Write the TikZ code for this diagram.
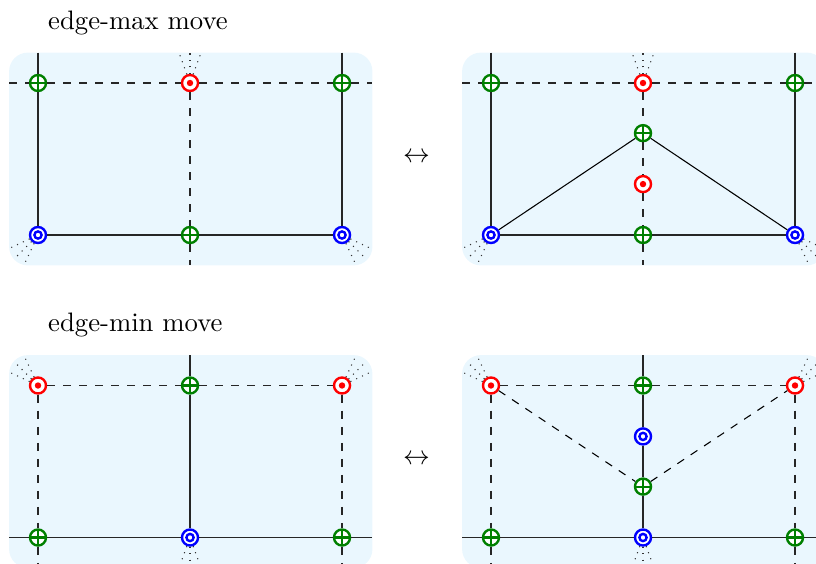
\documentclass[tikz,border=0pt]{standalone}
\definecolor{panelbg}{RGB}{234,247,254}
\definecolor{sadgreen}{RGB}{0,128,0}
\tikzset{
  vtx/.style={circle,draw,fill=white,line width=0.9pt,minimum size=6pt,inner sep=0pt},
  maxv/.style={vtx,draw=red,path picture={\fill[red] (path picture bounding box.center) circle (1.2pt);}},
  minv/.style={vtx,draw=blue,path picture={\draw[blue,line width=0.9pt] (path picture bounding box.center) circle (1.35pt);}},
  sadv/.style={vtx,draw=sadgreen,path picture={\draw[sadgreen,line width=0.8pt]
      (path picture bounding box.north) -- (path picture bounding box.south)
      (path picture bounding box.west) -- (path picture bounding box.east);}},
  panel/.style={fill=panelbg,rounded corners=7pt},
  fan/.style={dotted,black!80},
  grid/.style={black!85},
}
\begin{document}
\begin{tikzpicture}[x=2cm,y=2cm]
\clip (-0.25,0.546) rectangle (5.118,-3.164);

\node[anchor=base west] (lmax) at (0.005,0.355) {edge-max move};
\node[anchor=base west] (lmin) at (0.005,-1.635) {edge-min move};
\node (swapmax) at (2.49,-0.49) {$\leftrightarrow$};
\node (swapmin) at (2.49,-2.48) {$\leftrightarrow$};

% edge-max move, before
\begin{scope}
\fill[panel] (-0.19,0.2) rectangle (2.2,-1.2);
\node[sadv] (a1) at (0,0) {};
\node[maxv] (a2) at (1,0) {};
\node[sadv] (a3) at (2,0) {};
\node[minv] (a4) at (0,-1) {};
\node[sadv] (a5) at (1,-1) {};
\node[minv] (a6) at (2,-1) {};
\coordinate (al) at (-0.19,0);
\coordinate (ar) at (2.2,0);
\coordinate (at1) at (0,0.2);
\coordinate (at3) at (2,0.2);
\coordinate (ab2) at (1,-1.2);
\draw[grid,dashed] (al) -- (a1) -- (a2) -- (a3) -- (ar);
\draw[grid,dashed] (a2) -- (a5) -- (ab2);
\draw[grid] (at1) -- (a1) -- (a4);
\draw[grid] (at3) -- (a3) -- (a6);
\draw[grid] (a4) -- (a5) -- (a6);
\foreach \a in {70,90,110} \draw[fan] (a2.\a) -- ++(\a:0.14);
\foreach \a in {205,225,245} \draw[fan] (a4.\a) -- ++(\a:0.14);
\foreach \a in {295,315,335} \draw[fan] (a6.\a) -- ++(\a:0.14);
\end{scope}

% edge-max move, after
\begin{scope}[shift={(2.98,0)}]
\fill[panel] (-0.19,0.2) rectangle (2.2,-1.2);
\node[sadv] (b1) at (0,0) {};
\node[maxv] (b2) at (1,0) {};
\node[sadv] (b3) at (2,0) {};
\node[sadv] (b4) at (1,-0.33) {};
\node[maxv] (b5) at (1,-0.665) {};
\node[minv] (b6) at (0,-1) {};
\node[sadv] (b7) at (1,-1) {};
\node[minv] (b8) at (2,-1) {};
\coordinate (bl) at (-0.19,0);
\coordinate (br) at (2.2,0);
\coordinate (bt1) at (0,0.2);
\coordinate (bt3) at (2,0.2);
\coordinate (bb2) at (1,-1.2);
\draw[grid,dashed] (bl) -- (b1) -- (b2) -- (b3) -- (br);
\draw[grid,dashed] (b2) -- (b4) -- (b5) -- (b7) -- (bb2);
\draw[grid] (bt1) -- (b1) -- (b6);
\draw[grid] (bt3) -- (b3) -- (b8);
\draw[grid] (b6) -- (b7) -- (b8);
\draw (b6) -- (b4) -- (b8);
\foreach \a in {70,90,110} \draw[fan] (b2.\a) -- ++(\a:0.14);
\foreach \a in {205,225,245} \draw[fan] (b6.\a) -- ++(\a:0.14);
\foreach \a in {295,315,335} \draw[fan] (b8.\a) -- ++(\a:0.14);
\end{scope}

% edge-min move, before
\begin{scope}[shift={(0,-1.99)}]
\fill[panel] (-0.19,0.2) rectangle (2.2,-1.2);
\node[maxv] (c1) at (0,0) {};
\node[sadv] (c2) at (1,0) {};
\node[maxv] (c3) at (2,0) {};
\node[sadv] (c4) at (0,-1) {};
\node[minv] (c5) at (1,-1) {};
\node[sadv] (c6) at (2,-1) {};
\coordinate (cl) at (-0.19,-1);
\coordinate (cr) at (2.2,-1);
\coordinate (ct2) at (1,0.2);
\coordinate (cb1) at (0,-1.2);
\coordinate (cb3) at (2,-1.2);
\draw[grid,dashed] (c1) -- (c2) -- (c3);
\draw[grid,dashed] (c1) -- (c4) -- (cb1);
\draw[grid,dashed] (c3) -- (c6) -- (cb3);
\draw[grid] (ct2) -- (c2) -- (c5);
\draw[grid] (cl) -- (c4) -- (c5) -- (c6) -- (cr);
\foreach \a in {115,135,155} \draw[fan] (c1.\a) -- ++(\a:0.14);
\foreach \a in {25,45,65} \draw[fan] (c3.\a) -- ++(\a:0.14);
\foreach \a in {250,270,290} \draw[fan] (c5.\a) -- ++(\a:0.14);
\end{scope}

% edge-min move, after
\begin{scope}[shift={(2.98,-1.99)}]
\fill[panel] (-0.19,0.2) rectangle (2.2,-1.2);
\node[maxv] (d1) at (0,0) {};
\node[sadv] (d2) at (1,0) {};
\node[maxv] (d3) at (2,0) {};
\node[minv] (d4) at (1,-0.335) {};
\node[sadv] (d5) at (1,-0.665) {};
\node[sadv] (d6) at (0,-1) {};
\node[minv] (d7) at (1,-1) {};
\node[sadv] (d8) at (2,-1) {};
\coordinate (dl) at (-0.19,-1);
\coordinate (dr) at (2.2,-1);
\coordinate (dt2) at (1,0.2);
\coordinate (db1) at (0,-1.2);
\coordinate (db3) at (2,-1.2);
\draw[grid,dashed] (d1) -- (d2) -- (d3);
\draw[dashed] (d1) -- (d5) -- (d3);
\draw[grid,dashed] (d1) -- (d6) -- (db1);
\draw[grid,dashed] (d3) -- (d8) -- (db3);
\draw[grid] (dt2) -- (d2) -- (d4) -- (d5) -- (d7);
\draw[grid] (dl) -- (d6) -- (d7) -- (d8) -- (dr);
\foreach \a in {115,135,155} \draw[fan] (d1.\a) -- ++(\a:0.14);
\foreach \a in {25,45,65} \draw[fan] (d3.\a) -- ++(\a:0.14);
\foreach \a in {250,270,290} \draw[fan] (d7.\a) -- ++(\a:0.14);
\end{scope}
\end{tikzpicture}
\end{document}
